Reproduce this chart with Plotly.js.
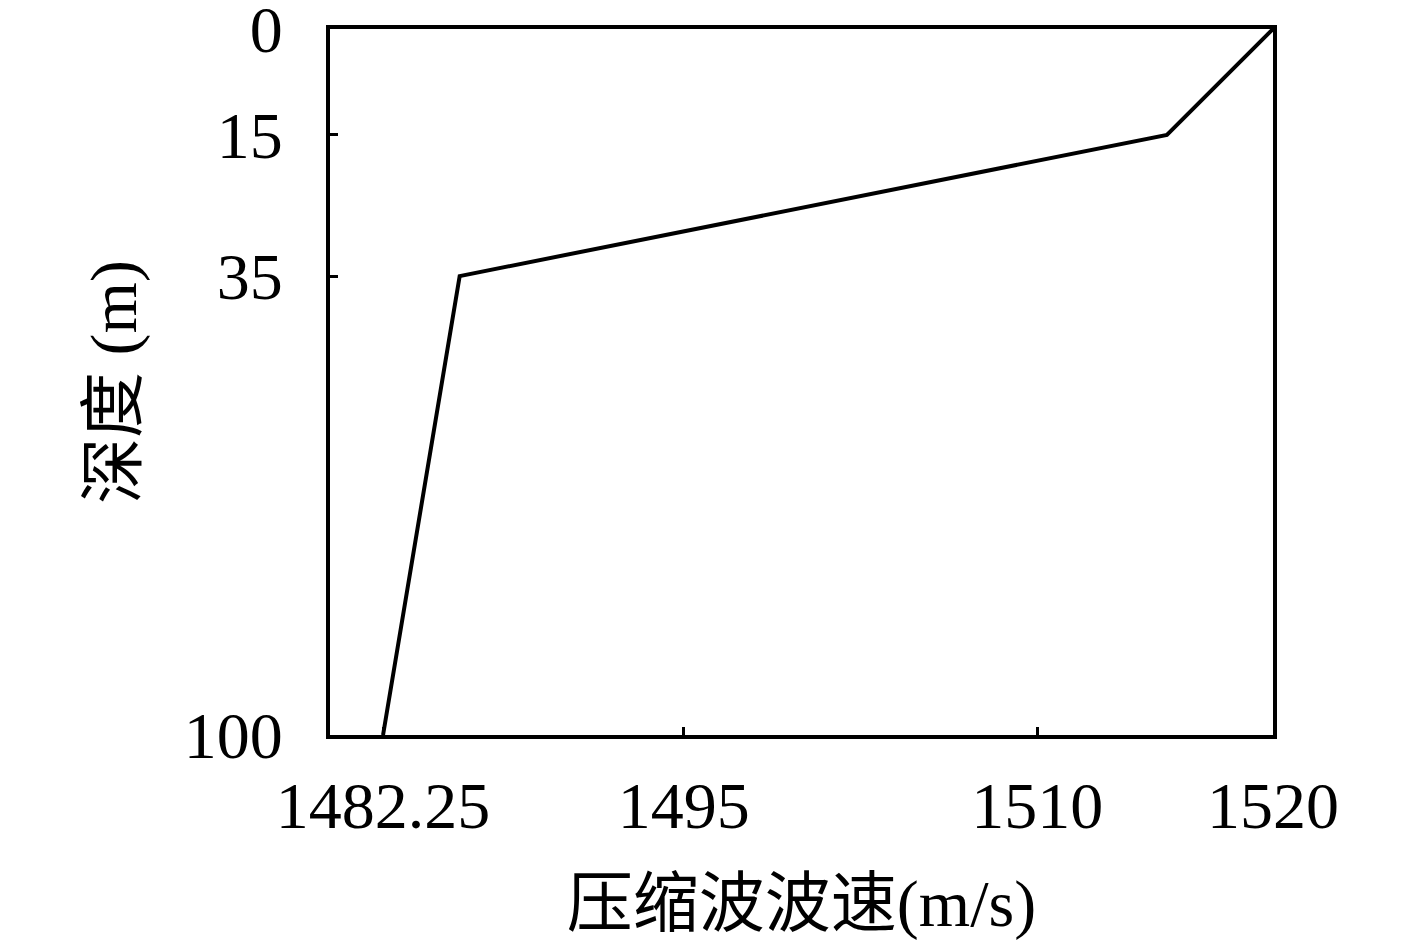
<!DOCTYPE html>
<html>
<head>
<meta charset="utf-8">
<script src="https://cdn.plot.ly/plotly-3.0.1.min.js"></script>
<style>
  html, body { margin: 0; padding: 0; background: #fff; }
  #chart { width: 1417px; height: 948px; }
</style>
</head>
<body>
<div id="chart"></div>
<script>
// depth profile of compressional wave speed
const depth = [0, 15, 35, 100];
const speed = [1520, 1515.5, 1485.5, 1482.25];

const xTicks = [1482.25, 1495, 1510, 1520];
const xTickText = ['1482.25', '1495', '1510', '1520'];
const yTicks = [0, 15, 35, 100];
const yTickText = ['0', '15', '35', '100'];

const fontFamily = '"Liberation Serif", "DejaVu Serif", "Noto Sans CJK SC", serif';

const trace = {
    x: speed,
    y: depth,
    type: 'scatter',
    mode: 'lines',
    line: { color: '#000', width: 4 },
    hoverinfo: 'skip'
};

const layout = {
    width: 1417,
    height: 948,
    margin: { l: 330, r: 144, t: 29, b: 213 },
    paper_bgcolor: '#fff',
    plot_bgcolor: '#fff',
    showlegend: false,
    font: { family: fontFamily, color: '#000', size: 66 },
    xaxis: {
        range: [1480, 1520],
        tickvals: xTicks,
        ticktext: xTickText,
        ticks: 'inside',
        ticklen: 8,
        tickwidth: 3,
        tickcolor: '#000',
        showline: true,
        linewidth: 4,
        linecolor: '#000',
        mirror: true,
        showgrid: false,
        zeroline: false,
        ticklabelstandoff: 10,
        ticklabeloverflow: 'allow',
        tickfont: { size: 66 },
        title: {
            text: '压缩波波速(m/s)',
            font: { size: 66 },
            standoff: 40
        }
    },
    yaxis: {
        range: [100, 0],
        tickvals: yTicks,
        ticktext: yTickText,
        ticks: 'inside',
        ticklen: 8,
        tickwidth: 3,
        tickcolor: '#000',
        showline: true,
        linewidth: 4,
        linecolor: '#000',
        mirror: true,
        showgrid: false,
        zeroline: false,
        ticklabelstandoff: 30,
        ticklabeloverflow: 'allow',
        tickfont: { size: 66 },
        title: {
            text: '深度 (m)',
            font: { size: 66 },
            standoff: 27
        }
    }
};

Plotly.newPlot('chart', [trace], layout, { displayModeBar: false, staticPlot: true });
</script>
</body>
</html>
